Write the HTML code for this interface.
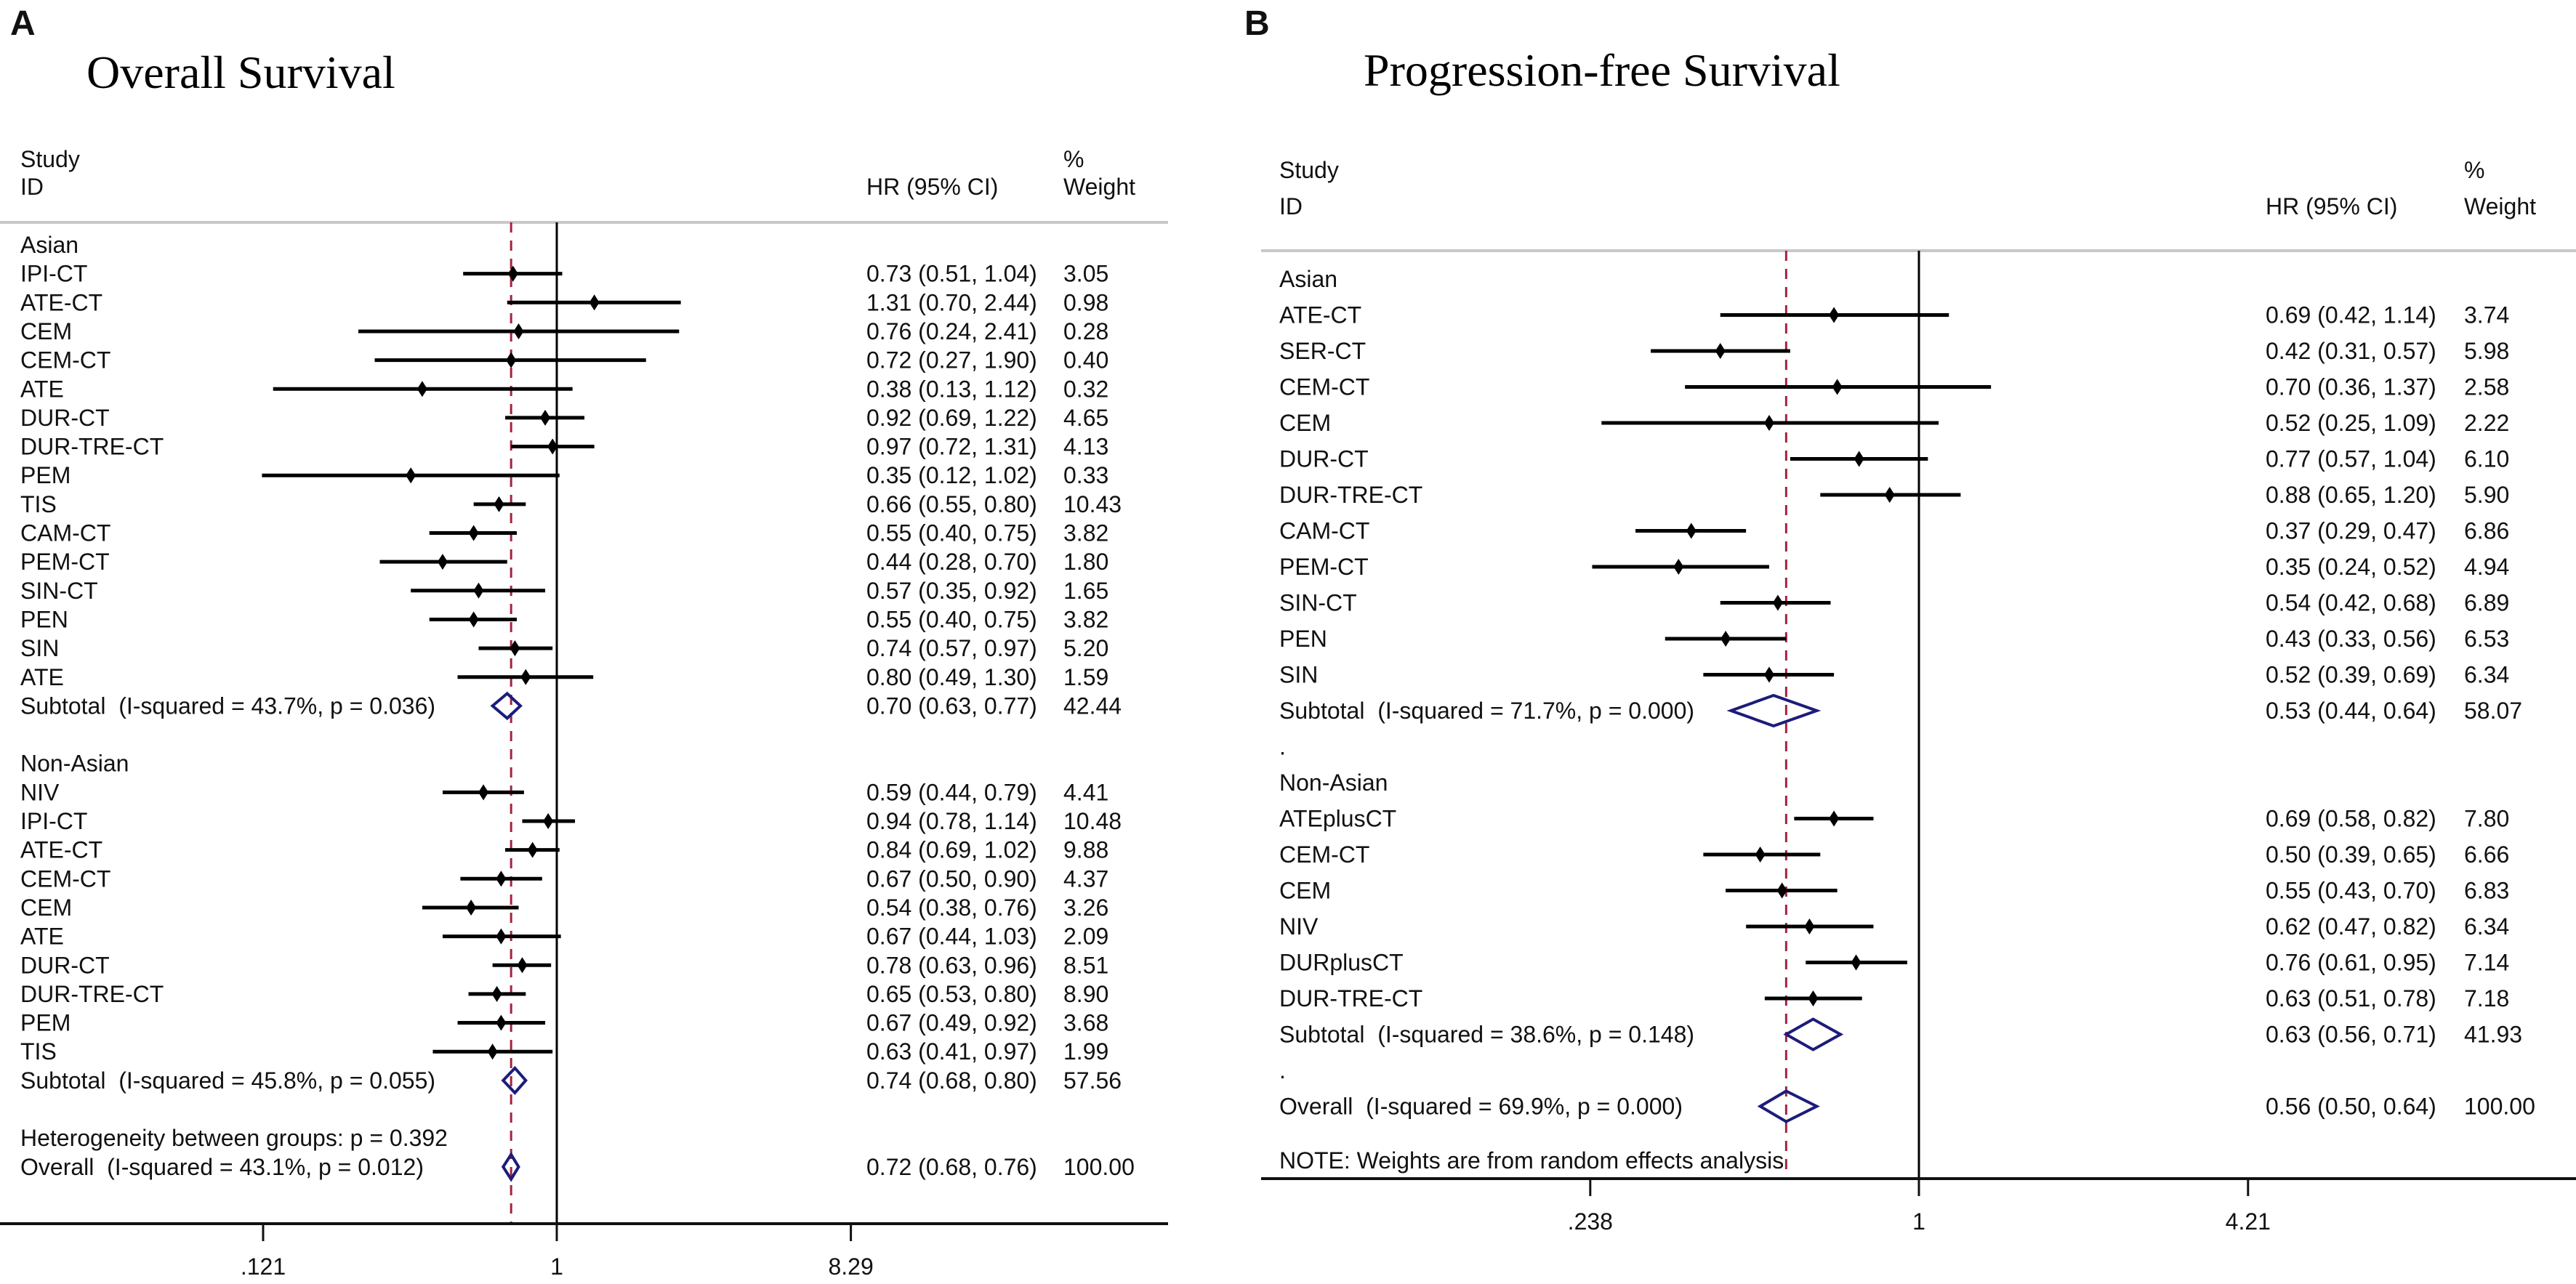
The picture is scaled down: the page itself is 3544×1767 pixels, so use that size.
<!DOCTYPE html>
<html><head><meta charset="utf-8"><style>
html,body{margin:0;padding:0;background:#fff}
svg text{font-family:"Liberation Sans",Arial,sans-serif;font-size:32px;fill:#111;white-space:pre}
.title{font-family:"Liberation Serif","Times New Roman",serif;font-size:64px;fill:#000}
.lab{font-weight:bold;font-size:48px}
</style></head><body>
<svg id="chart" xmlns="http://www.w3.org/2000/svg" width="3544" height="1762" viewBox="0 0 3544 1762">
<rect width="3544" height="1762" fill="#fff"/>
<g id="pa"></g>
<g id="pb"></g>
</svg>
<script>
// Panel A data (Overall Survival)
const aAsianNames=["IPI-CT","ATE-CT","CEM","CEM-CT","ATE","DUR-CT","DUR-TRE-CT","PEM","TIS","CAM-CT","PEM-CT","SIN-CT","PEN","SIN","ATE"];
const aAsianHR=[0.73,1.31,0.76,0.72,0.38,0.92,0.97,0.35,0.66,0.55,0.44,0.57,0.55,0.74,0.80];
const aAsianLo=[0.51,0.70,0.24,0.27,0.13,0.69,0.72,0.12,0.55,0.40,0.28,0.35,0.40,0.57,0.49];
const aAsianHi=[1.04,2.44,2.41,1.90,1.12,1.22,1.31,1.02,0.80,0.75,0.70,0.92,0.75,0.97,1.30];
const aAsianWt=["3.05","0.98","0.28","0.40","0.32","4.65","4.13","0.33","10.43","3.82","1.80","1.65","3.82","5.20","1.59"];
const aNonNames=["NIV","IPI-CT","ATE-CT","CEM-CT","CEM","ATE","DUR-CT","DUR-TRE-CT","PEM","TIS"];
const aNonHR=[0.59,0.94,0.84,0.67,0.54,0.67,0.78,0.65,0.67,0.63];
const aNonLo=[0.44,0.78,0.69,0.50,0.38,0.44,0.63,0.53,0.49,0.41];
const aNonHi=[0.79,1.14,1.02,0.90,0.76,1.03,0.96,0.80,0.92,0.97];
const aNonWt=["4.41","10.48","9.88","4.37","3.26","2.09","8.51","8.90","3.68","1.99"];
const aSummaries=[[0.70,0.63,0.77,"42.44"],[0.74,0.68,0.80,"57.56"],[0.72,0.68,0.76,"100.00"]];
const aTicks=[0.121,1,8.29];
const aTickLabels=[".121","1","8.29"];
// Panel B data (PFS)
const bAsianNames=["ATE-CT","SER-CT","CEM-CT","CEM","DUR-CT","DUR-TRE-CT","CAM-CT","PEM-CT","SIN-CT","PEN","SIN"];
const bAsianHR=[0.69,0.42,0.70,0.52,0.77,0.88,0.37,0.35,0.54,0.43,0.52];
const bAsianLo=[0.42,0.31,0.36,0.25,0.57,0.65,0.29,0.24,0.42,0.33,0.39];
const bAsianHi=[1.14,0.57,1.37,1.09,1.04,1.20,0.47,0.52,0.68,0.56,0.69];
const bAsianWt=["3.74","5.98","2.58","2.22","6.10","5.90","6.86","4.94","6.89","6.53","6.34"];
const bNonNames=["ATEplusCT","CEM-CT","CEM","NIV","DURplusCT","DUR-TRE-CT"];
const bNonHR=[0.69,0.50,0.55,0.62,0.76,0.63];
const bNonLo=[0.58,0.39,0.43,0.47,0.61,0.51];
const bNonHi=[0.82,0.65,0.70,0.82,0.95,0.78];
const bNonWt=["7.80","6.66","6.83","6.34","7.14","7.18"];
const bSummaries=[[0.53,0.44,0.64,"58.07"],[0.63,0.56,0.71,"41.93"],[0.56,0.50,0.64,"100.00"]];
const bTicks=[0.238,1,4.21];
const bTickLabels=[".238","1","4.21"];

const NS="http://www.w3.org/2000/svg";
function mk(parent,tag,attrs,txt){const e=document.createElementNS(NS,tag);for(const k in attrs)e.setAttribute(k,attrs[k]);if(txt!==undefined)e.textContent=txt;parent.appendChild(e);return e;}
function f2(v){return v.toFixed(2);}
function hrText(h,l,u){return f2(h)+" ("+f2(l)+", "+f2(u)+")";}

function drawPanel(g,cfg){
  const X=v=>cfg.x1+Math.log(v)*cfg.k;
  const Y=i=>cfg.y0+i*cfg.dy;
  let t;
  t=mk(g,"text",{x:cfg.labX,y:48,class:"lab"},cfg.letter);
  
  
  t=mk(g,"text",{x:cfg.titleX,y:cfg.titleY,class:"title"},cfg.title);
  
  
  const hdr=[[cfg.tx,cfg.h1,"Study","study-header"],[cfg.tx,cfg.h2,"ID","id-header"],[cfg.hrX,cfg.h2,"HR (95% CI)","hr-header"],[cfg.wX,cfg.h1,"%","percent-header"],[cfg.wX,cfg.h2,"Weight","weight-header"]];
  hdr.forEach(h=>{const e=mk(g,"text",{x:h[0],y:h[1]},h[2]);});
  let e=mk(g,"line",{x1:cfg.lineL,x2:cfg.lineR,y1:cfg.gy,y2:cfg.gy,stroke:"#c8c8c8","stroke-width":4});
  
  
  // null line
  e=mk(g,"line",{x1:X(1),x2:X(1),y1:cfg.gy,y2:cfg.ay,stroke:"#000","stroke-width":3});
  
  
  // overall dashed line
  const ov=cfg.sums[2][0];
  e=mk(g,"line",{x1:X(ov),x2:X(ov),y1:cfg.gy,y2:cfg.ay,stroke:"#a3233f","stroke-width":3,"stroke-dasharray":"14,11"});
  
  
  // axis
  e=mk(g,"line",{x1:cfg.lineL,x2:cfg.lineR,y1:cfg.ay,y2:cfg.ay,stroke:"#111","stroke-width":4});
  
  
  cfg.ticks.forEach((v,i)=>{
    const tk=mk(g,"line",{x1:X(v),x2:X(v),y1:cfg.ay,y2:cfg.ay+24,stroke:"#111","stroke-width":3});
    
    
    const tl=mk(g,"text",{x:X(v),y:cfg.ay+70,"text-anchor":"middle"},cfg.tickLabels[i]);
    
    
  });
  function label(i,s,name){const t=mk(g,"text",{x:cfg.tx,y:Y(i)+11},s);}
  function study(i,n,h,l,u,w){
    const y=Y(i);
    label(i,n,'study-label');
    const ci=mk(g,"line",{x1:X(l),x2:X(u),y1:y,y2:y,stroke:"#000","stroke-width":5});
    
    
    const x=X(h);
    const m=mk(g,"polygon",{points:`${x},${y-11} ${x+7},${y} ${x},${y+11} ${x-7},${y}`,fill:"#000"});
    
    
    const ht=mk(g,"text",{x:cfg.hrX,y:y+11},hrText(h,l,u));
    
    
    const wt=mk(g,"text",{x:cfg.wX,y:y+11},w);
    
    
  }
  function summ(i,s,txt){
    const y=Y(i),h=cfg.dh;
    label(i,txt,'summary-label');
    const d=mk(g,"polygon",{points:`${X(s[1])},${y} ${X(s[0])},${y-h} ${X(s[2])},${y} ${X(s[0])},${y+h}`,fill:"none",stroke:"#1c1c7a","stroke-width":4});
    
    
    const ht=mk(g,"text",{x:cfg.hrX,y:y+11},hrText(s[0],s[1],s[2]));
    
    
    const wt=mk(g,"text",{x:cfg.wX,y:y+11},s[3]);
    
    
  }
  let r=0;
  label(r++,"Asian",'group-label');
  cfg.g1.n.forEach((n,j)=>study(r++,n,cfg.g1.h[j],cfg.g1.l[j],cfg.g1.u[j],cfg.g1.w[j]));
  summ(r++,cfg.sums[0],cfg.sub1);
  if(cfg.dots)label(r,".",'spacer-dot');
  r++;
  label(r++,"Non-Asian",'group-label');
  cfg.g2.n.forEach((n,j)=>study(r++,n,cfg.g2.h[j],cfg.g2.l[j],cfg.g2.u[j],cfg.g2.w[j]));
  summ(r++,cfg.sums[1],cfg.sub2);
  if(cfg.dots)label(r,".",'spacer-dot');
  r++;
  if(cfg.het)label(r++,cfg.het,'heterogeneity-label');
  summ(r++,cfg.sums[2],cfg.ovl);
  if(cfg.note){const t=mk(g,"text",{x:cfg.tx,y:cfg.noteY},cfg.note);}
}
drawPanel(document.getElementById('pa'),{
  letter:"A",labX:14,title:"Overall Survival",titleX:119,titleY:121,
  x1:766,k:191.3,y0:337,dy:39.65,tx:28,hrX:1192,wX:1463,h1:230,h2:268,
  gy:306,ay:1684,lineL:0,lineR:1607,dh:17,
  ticks:aTicks,tickLabels:aTickLabels,sums:aSummaries,
  g1:{n:aAsianNames,h:aAsianHR,l:aAsianLo,u:aAsianHi,w:aAsianWt},
  g2:{n:aNonNames,h:aNonHR,l:aNonLo,u:aNonHi,w:aNonWt},
  sub1:"Subtotal  (I-squared = 43.7%, p = 0.036)",sub2:"Subtotal  (I-squared = 45.8%, p = 0.055)",
  het:"Heterogeneity between groups: p = 0.392",ovl:"Overall  (I-squared = 43.1%, p = 0.012)",dots:false
});
drawPanel(document.getElementById('pb'),{
  letter:"B",labX:1712,title:"Progression-free Survival",titleX:1876,titleY:118,
  x1:2640,k:315,y0:384,dy:49.5,tx:1760,hrX:3117,wX:3390,h1:245,h2:295,
  gy:345,ay:1622,lineL:1735,lineR:3544,dh:21,
  ticks:bTicks,tickLabels:bTickLabels,sums:bSummaries,
  g1:{n:bAsianNames,h:bAsianHR,l:bAsianLo,u:bAsianHi,w:bAsianWt},
  g2:{n:bNonNames,h:bNonHR,l:bNonLo,u:bNonHi,w:bNonWt},
  sub1:"Subtotal  (I-squared = 71.7%, p = 0.000)",sub2:"Subtotal  (I-squared = 38.6%, p = 0.148)",
  het:null,ovl:"Overall  (I-squared = 69.9%, p = 0.000)",dots:true,
  note:"NOTE: Weights are from random effects analysis",noteY:1608
});
</script>
</body></html>
